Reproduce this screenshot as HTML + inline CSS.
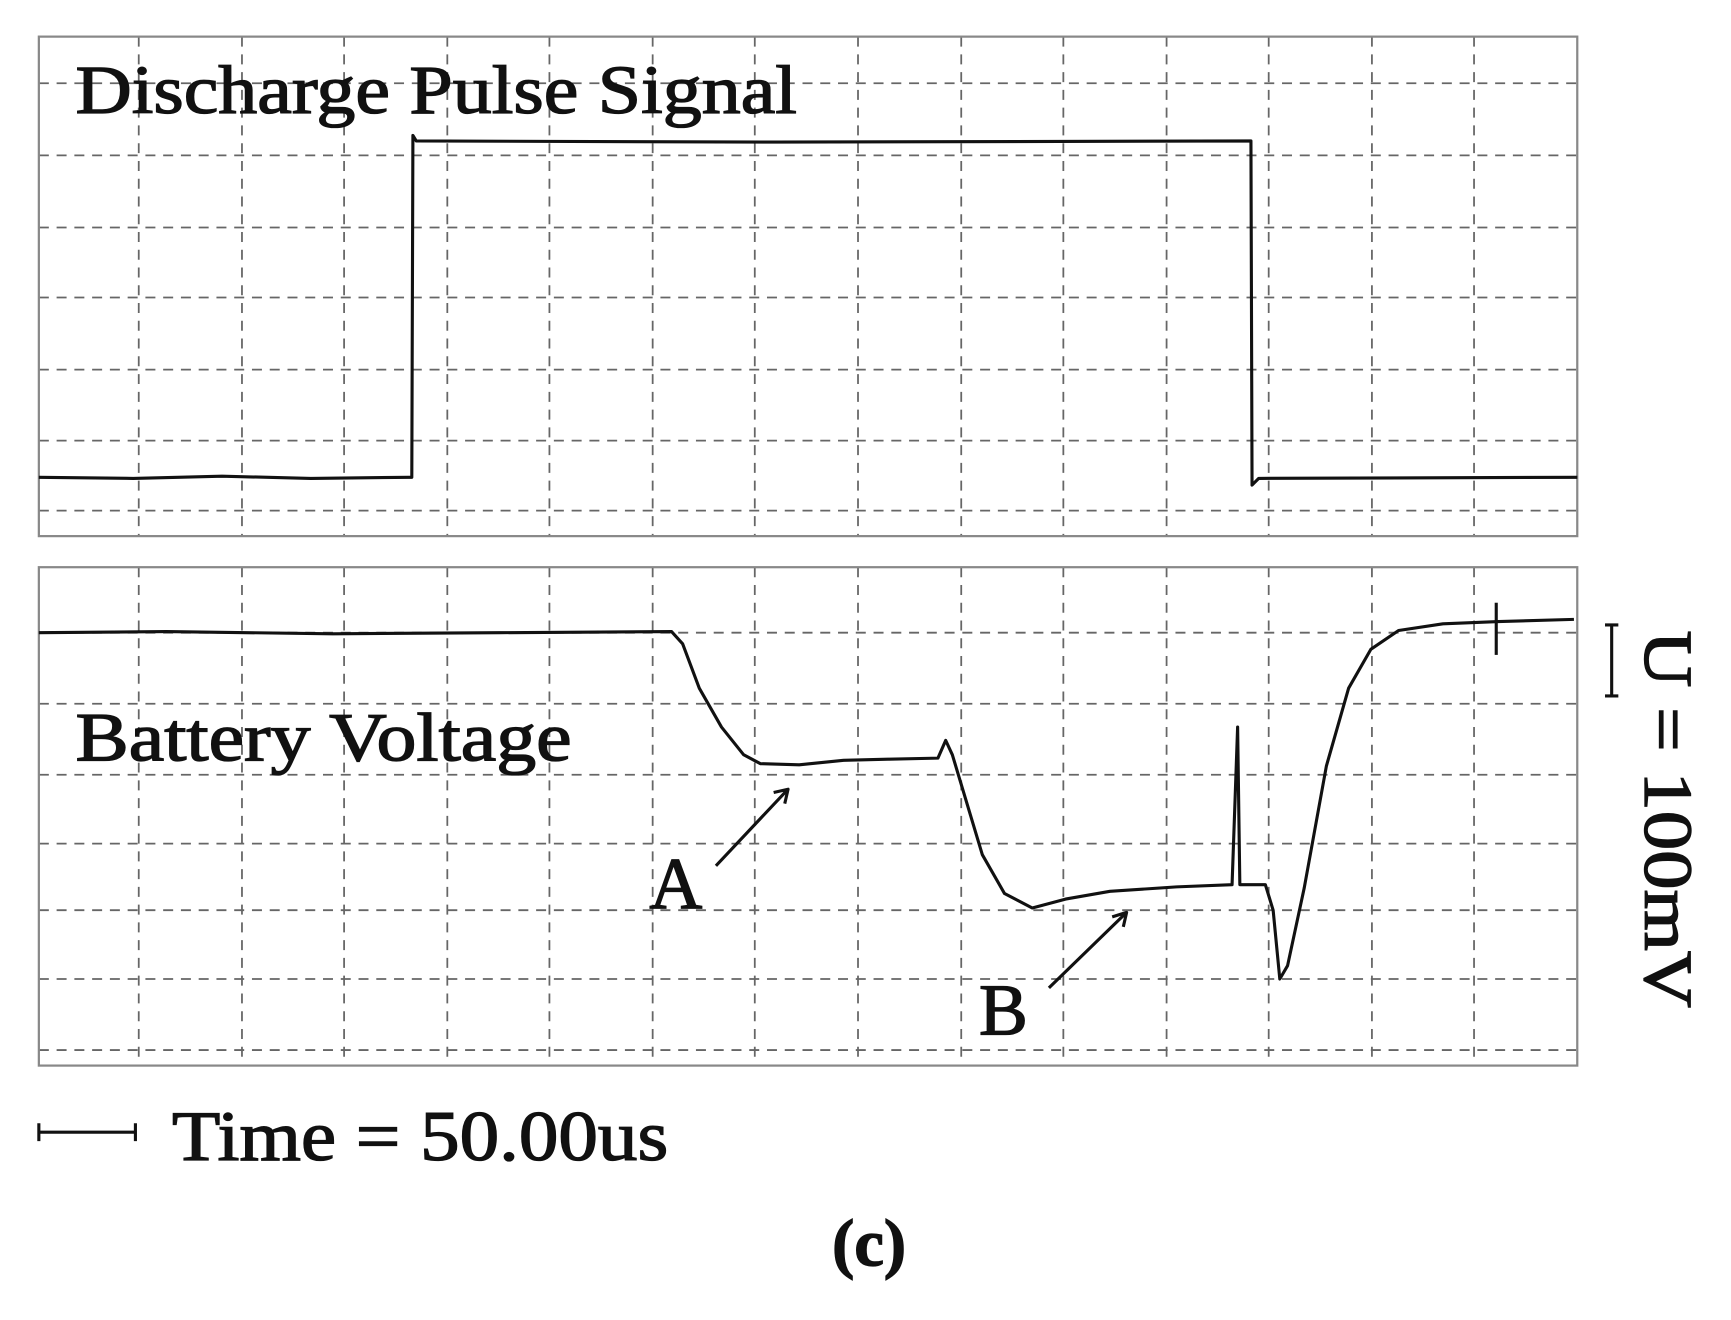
<!DOCTYPE html>
<html><head><style>html,body{margin:0;padding:0;background:#fff}svg{display:block}</style></head>
<body>
<svg width="1731" height="1320" viewBox="0 0 1559.5 1189.2" preserveAspectRatio="none" xmlns="http://www.w3.org/2000/svg" font-family="Liberation Serif, serif">
<rect width="1560" height="1190" fill="#fff"/>
<g stroke="#666" stroke-width="1.6" stroke-dasharray="9,7" fill="none">
<path d="M125 33V483M218 33V483M310 33V483M403 33V483M495 33V483M588 33V483M680 33V483M773 33V483M866 33V483M958 33V483M1051 33V483M1143 33V483M1236 33V483M1328 33V483"/>
<path d="M35 75H1421M35 140H1421M35 205H1421M35 268H1421M35 333H1421M35 397H1421M35 460H1421"/>
<path d="M125 511V960M218 511V960M310 511V960M403 511V960M495 511V960M588 511V960M680 511V960M773 511V960M866 511V960M958 511V960M1051 511V960M1143 511V960M1236 511V960M1328 511V960"/>
<path d="M35 570H1421M35 634H1421M35 698H1421M35 760H1421M35 820H1421M35 882H1421M35 946H1421"/>
</g>
<rect x="35" y="33" width="1386" height="450" fill="none" stroke="#888" stroke-width="2"/>
<rect x="35" y="511" width="1386" height="449" fill="none" stroke="#888" stroke-width="2"/>
<g fill="none" stroke="#111" stroke-width="2.8" stroke-linejoin="round">
<path d="M35 430L120 431L200 429L280 431L368 430L371 430L372 122L375 127L700 128L1127 127L1128 437L1134 431L1421 430"/>
<path d="M35 570L150 569L300 571L450 570L605 569L615 580L630 620L650 655L670 680L685 688L720 689L760 685L800 684L845 683L852 667L858 680L870 720L885 770L905 805L930 818L960 810L1000 803L1060 799L1110 797L1115 655L1117 797L1140 797L1147 820L1153 882L1160 870L1175 800L1195 690L1215 620L1235 585L1260 568L1300 562L1350 560L1418 558"/>
<path d="M1348 543V590"/>
<path d="M645 780L710 711M697 714L710 711L707 724M945 890L1015 822M1002 826L1015 822L1012 835"/>
<path d="M1452 563V627M1446 563H1458M1446 627H1458"/>
<path d="M35 1020H122M35 1012V1028M122 1012V1028"/>
</g>
<g fill="#111" stroke="#111" stroke-width="1.2">
<text x="68" y="102" font-size="62" textLength="650" lengthAdjust="spacingAndGlyphs">Discharge Pulse Signal</text>
<text x="68" y="685" font-size="62" textLength="447" lengthAdjust="spacingAndGlyphs">Battery Voltage</text>
<text x="585" y="818" font-size="66">A</text>
<text x="882" y="932" font-size="66">B</text>
<text x="155" y="1045" font-size="64" textLength="447" lengthAdjust="spacingAndGlyphs">Time = 50.00us</text>
<text x="783" y="1140" font-size="60" font-weight="bold" text-anchor="middle">(c)</text>
<text transform="translate(1482 738) rotate(90)" font-size="62" text-anchor="middle" textLength="340" lengthAdjust="spacingAndGlyphs">U = 100mV</text>
</g>
</svg>
</body></html>
